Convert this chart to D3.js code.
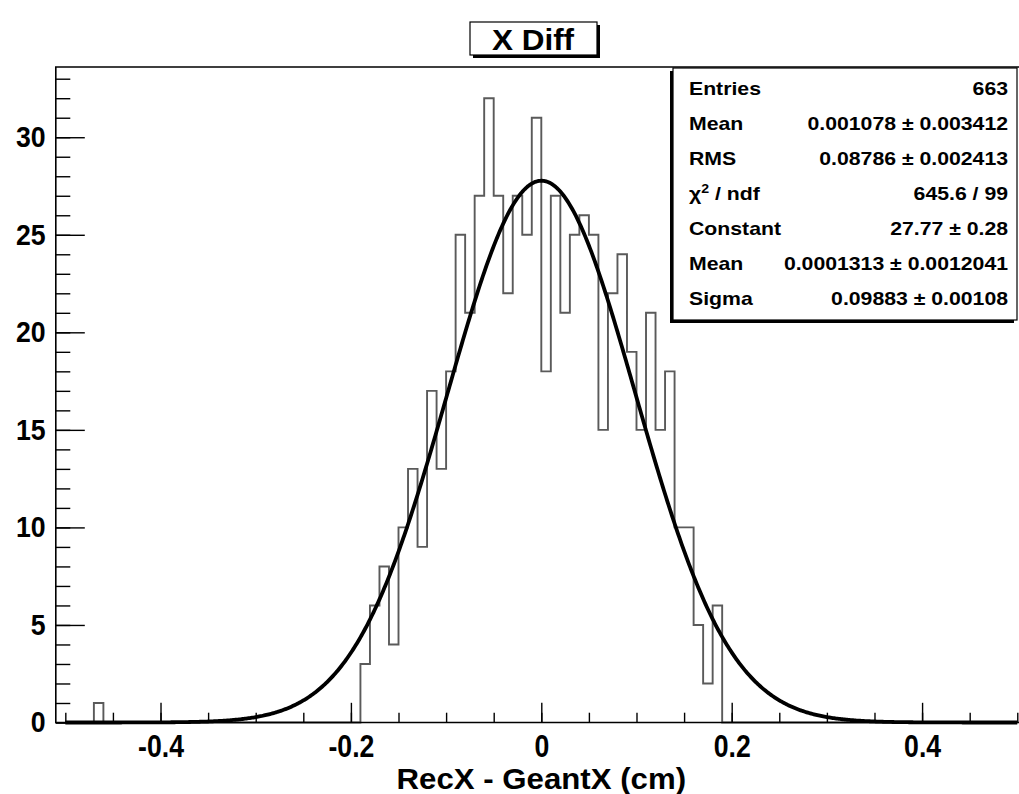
<!DOCTYPE html>
<html>
<head>
<meta charset="utf-8">
<script src="https://cdn.jsdelivr.net/npm/d3@7"></script>
<style>
  html, body { margin: 0; padding: 0; background: #fff; }
  svg { display: block; font-family: "Liberation Sans", Arial, Helvetica, sans-serif; font-weight: bold; }
</style>
</head>
<body>
<svg id="chart" width="1019" height="794"></svg>
<script>
// Histogram: 100 bins of RecX - GeantX between binLow and binHigh
const binLow = -0.5;
const binHigh = 0.5;
const counts = [
  0, 0, 0, 1, 0, 0, 0, 0, 0, 0,
  0, 0, 0, 0, 0, 0, 0, 0, 0, 0,
  0, 0, 0, 0, 0, 0, 0, 0, 0, 0,
  0, 3, 6, 8, 4, 10, 13, 9, 17, 13,
  18, 25, 21, 27, 32, 27, 22, 27, 25, 31,
  18, 27, 21, 25, 26, 25, 15, 22, 24, 19,
  15, 21, 15, 18, 10, 10, 5, 2, 6, 0,
  0, 0, 0, 0, 0, 0, 0, 0, 0, 0,
  0, 0, 0, 0, 0, 0, 0, 0, 0, 0,
  0, 0, 0, 0, 0, 0, 0, 0, 0, 0
];

// Gaussian fit parameters
const fitConstant = 27.77;
const fitMean = 0.0001313;
const fitSigma = 0.09883;

// Axis ticks
const xTickValues = [-0.4, -0.2, 0, 0.2, 0.4];
const xMinorStep = 0.05;
const yTickValues = [0, 5, 10, 15, 20, 25, 30];
const yMinorStep = 1;

// Text
const titleText = "X Diff";
const xTitle = "RecX - GeantX (cm)";
const statLabels = ["Entries", "Mean", "RMS", "χ2 / ndf", "Constant", "Mean", "Sigma"];
const statValues = ["663", "0.001078 ± 0.003412", "0.08786 ± 0.002413", "645.6 / 99",
                    "27.77 ± 0.28", "0.0001313 ± 0.0012041", "0.09883 ± 0.00108"];

const svg = d3.select("#chart");

const nBins = counts.length;
const binW = (binHigh - binLow) / nBins;
const yMax = d3.max(counts) * 1.05;

// frame spans one bin beyond the histogram range on each side
const x = d3.scaleLinear().domain([binLow - binW, binHigh + binW]).range([55.8, 1026.8]);
const y = d3.scaleLinear().domain([0, yMax]).range([722.5, 67]);

const frameL = x.range()[0], frameR = x.range()[1];
const frameB = y.range()[0], frameT = y.range()[1];

const g = svg.append("g");

// histogram outline as a step path
const edges = d3.range(nBins + 1).map(i => binLow + i * binW);
let d = `M${x(edges[0])},${y(0)}`;
counts.forEach((c, i) => {
  d += `L${x(edges[i])},${y(c)}L${x(edges[i + 1])},${y(c)}`;
});
d += `L${x(edges[nBins])},${y(0)}`;
g.append("path").attr("d", d)
  .attr("fill", "none").attr("stroke", "#5a5a5a").attr("stroke-width", 1.9);

// fitted gaussian
const gauss = v => fitConstant * Math.exp(-0.5 * Math.pow((v - fitMean) / fitSigma, 2));
const fx = d3.range(0, 801).map(i => binLow + i * (binHigh - binLow) / 800);
g.append("path")
  .attr("d", d3.line().x(v => x(v)).y(v => y(gauss(v)))(fx))
  .attr("fill", "none").attr("stroke", "#000").attr("stroke-width", 3.8)
  .attr("stroke-linejoin", "round");

// frame lines (left, bottom, top)
g.append("path")
  .attr("d", `M${frameR},${frameT}L${frameL},${frameT}L${frameL},${frameB}L${frameR},${frameB}`)
  .attr("fill", "none").attr("stroke", "#000").attr("stroke-width", 1.6);

// x axis: minor ticks every 0.05, labelled major ticks
const xMinor = d3.range(Math.round(binLow / xMinorStep), Math.round(binHigh / xMinorStep) + 1)
  .map(k => +(k * xMinorStep).toFixed(3));
const xMinorG = g.append("g").attr("transform", `translate(0,${frameB})`)
  .call(d3.axisBottom(x).tickValues(xMinor).tickSize(-9.8).tickFormat(""));
const xMajorG = g.append("g").attr("transform", `translate(0,${frameB})`)
  .call(d3.axisBottom(x).tickValues(xTickValues).tickSize(-19.7).tickPadding(13)
    .tickFormat(v => v === 0 ? "0" : d3.format("")(v).replace("−", "-")));
[xMinorG, xMajorG].forEach(a => {
  a.selectAll(".domain").remove();
  a.selectAll("line").attr("stroke", "#000").attr("stroke-width", 1.4);
});
xMajorG.selectAll("text").attr("font-size", 31).attr("fill", "#000")
  .attr("transform", "scale(0.86,1)");

// y axis: minor ticks every 1, labelled major ticks every 5
const yMinor = d3.range(0, Math.floor(yMax) + 1, yMinorStep);
const yMinorG = g.append("g").attr("transform", `translate(${frameL},0)`)
  .call(d3.axisLeft(y).tickValues(yMinor).tickSize(-14.5).tickFormat(""));
const yMajorG = g.append("g").attr("transform", `translate(${frameL},0)`)
  .call(d3.axisLeft(y).tickValues(yTickValues).tickSize(-29).tickPadding(11));
[yMinorG, yMajorG].forEach(a => {
  a.selectAll(".domain").remove();
  a.selectAll("line").attr("stroke", "#000").attr("stroke-width", 1.4);
});
yMajorG.selectAll("text").attr("font-size", 29).attr("fill", "#000")
  .attr("transform", "scale(0.92,1)");

// x axis title
g.append("text")
  .attr("transform", `translate(${(x(0.5) + x(-0.5)) / 2},789) scale(1.04,1)`)
  .attr("text-anchor", "middle").attr("font-size", 30)
  .text(xTitle);

// title box with shadow
const tb = { x: 470, y: 22, w: 127, h: 33 };
g.append("rect").attr("x", tb.x + 3).attr("y", tb.y + 3).attr("width", tb.w).attr("height", tb.h).attr("fill", "#000");
g.append("rect").attr("x", tb.x).attr("y", tb.y).attr("width", tb.w).attr("height", tb.h)
  .attr("fill", "#fff").attr("stroke", "#000").attr("stroke-width", 1.2);
g.append("text")
  .attr("transform", `translate(${tb.x + tb.w / 2 - 0.5},${tb.y + 28}) scale(1.05,1)`)
  .attr("text-anchor", "middle").attr("font-size", 30).text(titleText);

// statistics box with shadow on the lower left
const sb = { x: 673, y: 68, w: 344, h: 252 };
g.append("rect").attr("x", sb.x - 3).attr("y", sb.y + 3).attr("width", sb.w).attr("height", sb.h).attr("fill", "#000");
g.append("rect").attr("x", sb.x).attr("y", sb.y).attr("width", sb.w).attr("height", sb.h)
  .attr("fill", "#fff").attr("stroke", "#000").attr("stroke-width", 1.2);

const rowY = d3.scalePoint().domain(d3.range(statLabels.length)).range([95, 305]);
const rows = g.append("g").attr("font-size", 18);
const sx = 1.18;
statLabels.forEach((lab, i) => {
  const t = rows.append("text").attr("transform", `translate(689,${rowY(i)}) scale(${sx},1)`);
  if (lab.startsWith("χ2")) {
    t.append("tspan").text("χ");
    t.append("tspan").attr("font-size", 12).attr("dy", -7).text("2");
    t.append("tspan").attr("dy", 7).text(" / ndf");
  } else {
    t.text(lab);
  }
  rows.append("text").attr("transform", `translate(1008,${rowY(i)}) scale(${sx},1)`)
    .attr("text-anchor", "end").text(statValues[i]);
});
</script>
</body>
</html>
